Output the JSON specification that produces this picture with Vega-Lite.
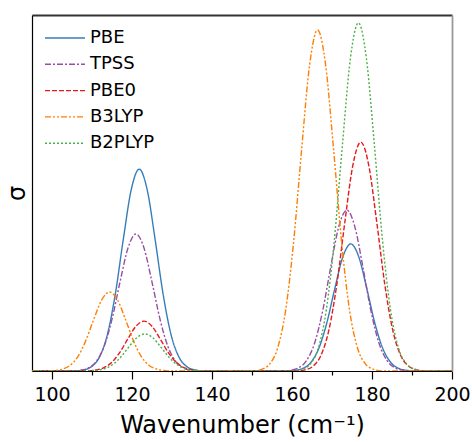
{
  "$schema": "https://vega.github.io/schema/vega-lite/v6.json",
  "width": 420,
  "height": 356,
  "autosize": "none",
  "padding": {"left": 32, "top": 15, "right": 20, "bottom": 71},
  "config": {"view": {"stroke": null}, "font": "DejaVu Sans"},
  "data": {"values": [
    {"m":"PBE","x":95,"y":0},{"m":"PBE","x":105.8,"y":0},{"m":"PBE","x":107.8,"y":0.0028},{"m":"PBE","x":109.8,"y":0.0116},{"m":"PBE","x":111.8,"y":0.0379},{"m":"PBE","x":113.8,"y":0.1005},{"m":"PBE","x":115.8,"y":0.2142},{"m":"PBE","x":117.8,"y":0.3679},{"m":"PBE","x":119.8,"y":0.5089},{"m":"PBE","x":121.8,"y":0.567},{"m":"PBE","x":123.8,"y":0.5089},{"m":"PBE","x":125.8,"y":0.3679},{"m":"PBE","x":127.8,"y":0.2142},{"m":"PBE","x":129.8,"y":0.1005},{"m":"PBE","x":131.8,"y":0.0379},{"m":"PBE","x":133.8,"y":0.0116},{"m":"PBE","x":135.8,"y":0.0028},{"m":"PBE","x":137.8,"y":0},
    {"m":"PBE","x":158.7,"y":0},{"m":"PBE","x":160.7,"y":0.0018},{"m":"PBE","x":162.7,"y":0.0073},{"m":"PBE","x":164.7,"y":0.0239},{"m":"PBE","x":166.7,"y":0.0633},{"m":"PBE","x":168.7,"y":0.1349},{"m":"PBE","x":170.7,"y":0.2316},{"m":"PBE","x":172.7,"y":0.3204},{"m":"PBE","x":174.7,"y":0.357},{"m":"PBE","x":176.7,"y":0.3204},{"m":"PBE","x":178.7,"y":0.2316},{"m":"PBE","x":180.7,"y":0.1349},{"m":"PBE","x":182.7,"y":0.0633},{"m":"PBE","x":184.7,"y":0.0239},{"m":"PBE","x":186.7,"y":0.0073},{"m":"PBE","x":188.7,"y":0.0018},{"m":"PBE","x":190.7,"y":0},{"m":"PBE","x":200,"y":0},

    {"m":"TPSS","x":95,"y":0},{"m":"TPSS","x":105,"y":0},{"m":"TPSS","x":107,"y":0.0019},{"m":"TPSS","x":109,"y":0.0078},{"m":"TPSS","x":111,"y":0.0258},{"m":"TPSS","x":113,"y":0.0682},{"m":"TPSS","x":115,"y":0.1455},{"m":"TPSS","x":117,"y":0.2498},{"m":"TPSS","x":119,"y":0.3455},{"m":"TPSS","x":121,"y":0.385},{"m":"TPSS","x":123,"y":0.3455},{"m":"TPSS","x":125,"y":0.2498},{"m":"TPSS","x":127,"y":0.1455},{"m":"TPSS","x":129,"y":0.0682},{"m":"TPSS","x":131,"y":0.0258},{"m":"TPSS","x":133,"y":0.0078},{"m":"TPSS","x":135,"y":0.0019},{"m":"TPSS","x":137,"y":0},
    {"m":"TPSS","x":157.7,"y":0},{"m":"TPSS","x":159.7,"y":0.0023},{"m":"TPSS","x":161.7,"y":0.0092},{"m":"TPSS","x":163.7,"y":0.0302},{"m":"TPSS","x":165.7,"y":0.0801},{"m":"TPSS","x":167.7,"y":0.1708},{"m":"TPSS","x":169.7,"y":0.2933},{"m":"TPSS","x":171.7,"y":0.4057},{"m":"TPSS","x":173.7,"y":0.452},{"m":"TPSS","x":175.7,"y":0.4057},{"m":"TPSS","x":177.7,"y":0.2933},{"m":"TPSS","x":179.7,"y":0.1708},{"m":"TPSS","x":181.7,"y":0.0801},{"m":"TPSS","x":183.7,"y":0.0302},{"m":"TPSS","x":185.7,"y":0.0092},{"m":"TPSS","x":187.7,"y":0.0023},{"m":"TPSS","x":189.7,"y":0},{"m":"TPSS","x":200,"y":0},

    {"m":"PBE0","x":95,"y":0},{"m":"PBE0","x":107,"y":0},{"m":"PBE0","x":109,"y":0.0007},{"m":"PBE0","x":111,"y":0.0029},{"m":"PBE0","x":113,"y":0.0094},{"m":"PBE0","x":115,"y":0.0248},{"m":"PBE0","x":117,"y":0.0529},{"m":"PBE0","x":119,"y":0.0908},{"m":"PBE0","x":121,"y":0.1257},{"m":"PBE0","x":123,"y":0.14},{"m":"PBE0","x":125,"y":0.1257},{"m":"PBE0","x":127,"y":0.0908},{"m":"PBE0","x":129,"y":0.0529},{"m":"PBE0","x":131,"y":0.0248},{"m":"PBE0","x":133,"y":0.0094},{"m":"PBE0","x":135,"y":0.0029},{"m":"PBE0","x":137,"y":0.0007},{"m":"PBE0","x":139,"y":0},
    {"m":"PBE0","x":161.2,"y":0},{"m":"PBE0","x":163.2,"y":0.0032},{"m":"PBE0","x":165.2,"y":0.0131},{"m":"PBE0","x":167.2,"y":0.043},{"m":"PBE0","x":169.2,"y":0.1139},{"m":"PBE0","x":171.2,"y":0.2429},{"m":"PBE0","x":173.2,"y":0.4172},{"m":"PBE0","x":175.2,"y":0.5771},{"m":"PBE0","x":177.2,"y":0.643},{"m":"PBE0","x":179.2,"y":0.5771},{"m":"PBE0","x":181.2,"y":0.4172},{"m":"PBE0","x":183.2,"y":0.2429},{"m":"PBE0","x":185.2,"y":0.1139},{"m":"PBE0","x":187.2,"y":0.043},{"m":"PBE0","x":189.2,"y":0.0131},{"m":"PBE0","x":191.2,"y":0.0032},{"m":"PBE0","x":193.2,"y":0},{"m":"PBE0","x":200,"y":0},

    {"m":"B3LYP","x":95,"y":0},{"m":"B3LYP","x":98.4,"y":0},{"m":"B3LYP","x":100.4,"y":0.0011},{"m":"B3LYP","x":102.4,"y":0.0045},{"m":"B3LYP","x":104.4,"y":0.0149},{"m":"B3LYP","x":106.4,"y":0.0393},{"m":"B3LYP","x":108.4,"y":0.0839},{"m":"B3LYP","x":110.4,"y":0.144},{"m":"B3LYP","x":112.4,"y":0.1992},{"m":"B3LYP","x":114.4,"y":0.222},{"m":"B3LYP","x":116.4,"y":0.1992},{"m":"B3LYP","x":118.4,"y":0.144},{"m":"B3LYP","x":120.4,"y":0.0839},{"m":"B3LYP","x":122.4,"y":0.0393},{"m":"B3LYP","x":124.4,"y":0.0149},{"m":"B3LYP","x":126.4,"y":0.0045},{"m":"B3LYP","x":128.4,"y":0.0011},{"m":"B3LYP","x":130.4,"y":0},
    {"m":"B3LYP","x":150.4,"y":0},{"m":"B3LYP","x":152.4,"y":0.0048},{"m":"B3LYP","x":154.4,"y":0.0195},{"m":"B3LYP","x":156.4,"y":0.0641},{"m":"B3LYP","x":158.4,"y":0.1698},{"m":"B3LYP","x":160.4,"y":0.3619},{"m":"B3LYP","x":162.4,"y":0.6215},{"m":"B3LYP","x":164.4,"y":0.8598},{"m":"B3LYP","x":166.4,"y":0.958},{"m":"B3LYP","x":168.4,"y":0.8598},{"m":"B3LYP","x":170.4,"y":0.6215},{"m":"B3LYP","x":172.4,"y":0.3619},{"m":"B3LYP","x":174.4,"y":0.1698},{"m":"B3LYP","x":176.4,"y":0.0641},{"m":"B3LYP","x":178.4,"y":0.0195},{"m":"B3LYP","x":180.4,"y":0.0048},{"m":"B3LYP","x":182.4,"y":0},{"m":"B3LYP","x":200,"y":0},

    {"m":"B2PLYP","x":95,"y":0},{"m":"B2PLYP","x":107.2,"y":0},{"m":"B2PLYP","x":109.2,"y":0.0005},{"m":"B2PLYP","x":111.2,"y":0.0021},{"m":"B2PLYP","x":113.2,"y":0.007},{"m":"B2PLYP","x":115.2,"y":0.0184},{"m":"B2PLYP","x":117.2,"y":0.0393},{"m":"B2PLYP","x":119.2,"y":0.0675},{"m":"B2PLYP","x":121.2,"y":0.0933},{"m":"B2PLYP","x":123.2,"y":0.104},{"m":"B2PLYP","x":125.2,"y":0.0933},{"m":"B2PLYP","x":127.2,"y":0.0675},{"m":"B2PLYP","x":129.2,"y":0.0393},{"m":"B2PLYP","x":131.2,"y":0.0184},{"m":"B2PLYP","x":133.2,"y":0.007},{"m":"B2PLYP","x":135.2,"y":0.0021},{"m":"B2PLYP","x":137.2,"y":0.0005},{"m":"B2PLYP","x":139.2,"y":0},
    {"m":"B2PLYP","x":160.6,"y":0},{"m":"B2PLYP","x":162.6,"y":0.0049},{"m":"B2PLYP","x":164.6,"y":0.0199},{"m":"B2PLYP","x":166.6,"y":0.0654},{"m":"B2PLYP","x":168.6,"y":0.1733},{"m":"B2PLYP","x":170.6,"y":0.3695},{"m":"B2PLYP","x":172.6,"y":0.6345},{"m":"B2PLYP","x":174.6,"y":0.8778},{"m":"B2PLYP","x":176.6,"y":0.978},{"m":"B2PLYP","x":178.6,"y":0.8778},{"m":"B2PLYP","x":180.6,"y":0.6345},{"m":"B2PLYP","x":182.6,"y":0.3695},{"m":"B2PLYP","x":184.6,"y":0.1733},{"m":"B2PLYP","x":186.6,"y":0.0654},{"m":"B2PLYP","x":188.6,"y":0.0199},{"m":"B2PLYP","x":190.6,"y":0.0049},{"m":"B2PLYP","x":192.6,"y":0},{"m":"B2PLYP","x":200,"y":0}
  ]},
  "layer": [
    {
      "mark": {"type": "line", "interpolate": "monotone", "strokeWidth": 1.4, "clip": true},
      "encoding": {
        "x": {"field": "x", "type": "quantitative",
          "scale": {"domain": [95, 200], "nice": false, "zero": false},
          "axis": {
            "title": "Wavenumber (cm⁻¹)", "titleFontSize": 24, "titleFontWeight": "normal", "titleColor": "#000", "titlePadding": 9,
            "values": [100, 110, 120, 130, 140, 150, 160, 170, 180, 190, 200],
            "labelExpr": "datum.value % 20 === 0 ? datum.label : ''",
            "labelFontSize": 19, "labelColor": "#000", "labelPadding": 6, "labelFlush": false, "labelOverlap": false,
            "grid": false, "domainColor": "#000", "domainWidth": 1.2, "tickColor": "#000", "tickWidth": 1.2,
            "tickSize": {"condition": {"test": "datum.value % 20 === 0", "value": 8}, "value": 4}
          }},
        "y": {"field": "y", "type": "quantitative",
          "scale": {"domain": [0, 1], "nice": false},
          "axis": {"title": "σ", "titleFontSize": 24, "titleFontWeight": "normal", "titleColor": "#000", "titlePadding": 3,
            "labels": false, "ticks": false, "grid": false, "domainColor": "#000", "domainWidth": 1.2}},
        "color": {"field": "m", "type": "nominal",
          "scale": {"domain": ["PBE", "TPSS", "PBE0", "B3LYP", "B2PLYP"], "range": ["#377eb8", "#984ea3", "#e41a1c", "#ff7f00", "#4daf4a"]},
          "legend": {"title": null, "orient": "top-left", "offset": 8, "symbolType": "M-1,0L3,0", "symbolSize": 400, "symbolStrokeWidth": 1.4,
            "labelFontSize": 18, "labelColor": "#000", "labelOffset": 24, "rowPadding": 6.3, "padding": 4}},
        "strokeDash": {"field": "m", "type": "nominal",
          "scale": {"domain": ["PBE", "TPSS", "PBE0", "B3LYP", "B2PLYP"], "range": [[1, 0], [6, 2, 2, 2], [5, 2], [6, 2, 2, 2, 2, 2], [2, 2]]},
          "legend": null}
      }
    },
    {
      "mark": {"type": "line", "opacity": 0},
      "encoding": {
        "x": {"field": "x", "type": "quantitative", "axis": {"orient": "top", "title": null, "labels": false, "ticks": false, "grid": false, "domainColor": "#333", "domainWidth": 2}},
        "y": {"field": "y", "type": "quantitative", "axis": {"orient": "right", "title": null, "labels": false, "ticks": false, "grid": false, "domainColor": "#999", "domainWidth": 1.8}}
      }
    }
  ],
  "resolve": {"axis": {"x": "independent", "y": "independent"}}
}
